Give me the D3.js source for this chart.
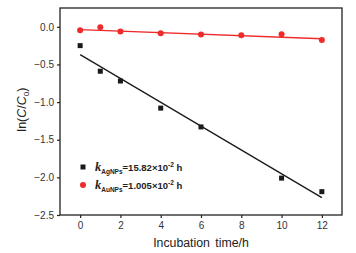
<!DOCTYPE html>
<html>
<head>
<meta charset="utf-8">
<script src="https://cdn.jsdelivr.net/npm/d3@7"></script>
<style>
  body { margin: 0; background: #fff; }
  svg { display: block; font-family: "Liberation Sans", Arial, sans-serif; }
</style>
</head>
<body>
<svg id="chart" width="356" height="253"></svg>
<script>
// measured points, ln(C/C0) vs incubation time
const hours = [0, 1, 2, 4, 6, 8, 10, 12];
const agHours = [0, 1, 2, 4, 6, 10, 12];
const agValues = [-0.25, -0.59, -0.72, -1.08, -1.33, -2.01, -2.19];
const auValues = [-0.045, -0.005, -0.063, -0.085, -0.103, -0.112, -0.099, -0.174];
// fitted lines (intercept, slope)
const agFit = [-0.37, -0.1582];
const auFit = [-0.038, -0.01005];
const xTicks = [0, 2, 4, 6, 8, 10, 12];
const yTicks = [0, -0.5, -1, -1.5, -2, -2.5];

const margin = { top: 8, right: 14, bottom: 38, left: 60 };
const svg = d3.select('#chart');
const width = 356 - margin.left - margin.right;
const height = 253 - margin.top - margin.bottom;

const x = d3.scaleLinear().domain([-1, 13]).range([0, width]);
const y = d3.scaleLinear().domain([-2.5, 0.25]).range([height, 0]);

const g = svg.append('g').attr('transform', `translate(${margin.left},${margin.top})`);

const styleAxis = sel => {
  sel.select('.domain').remove();
  sel.selectAll('line').attr('stroke', '#222').attr('stroke-width', 1.2);
  sel.selectAll('text').attr('fill', '#333').attr('font-size', 10);
};

g.append('g')
  .attr('transform', `translate(0,${height})`)
  .call(d3.axisBottom(x).tickValues(xTicks).tickSize(3).tickPadding(4).tickFormat(d3.format('d')))
  .call(styleAxis);

g.append('g')
  .call(d3.axisLeft(y).tickValues(yTicks).tickSize(3).tickPadding(3).tickFormat(d3.format('.1f')))
  .call(styleAxis);

g.append('rect')
  .attr('width', width).attr('height', height)
  .attr('fill', 'none').attr('stroke', '#222').attr('stroke-width', 1.3);

const fitLine = (fit, color) => {
  g.append('line')
    .attr('x1', x(0)).attr('y1', y(fit[0]))
    .attr('x2', x(12)).attr('y2', y(fit[0] + 12 * fit[1]))
    .attr('stroke', color).attr('stroke-width', 1.3);
};
fitLine(agFit, '#1a1a1a');
fitLine(auFit, '#ee2a2a');

g.selectAll('.ag')
  .data(agHours.map((h, i) => [h, agValues[i]]))
  .join('rect')
  .attr('x', d => x(d[0]) - 2.5)
  .attr('y', d => y(d[1]) - 2.5)
  .attr('width', 5).attr('height', 5)
  .attr('fill', '#1a1a1a');

g.selectAll('.au')
  .data(hours.map((h, i) => [h, auValues[i]]))
  .join('circle')
  .attr('cx', d => x(d[0]))
  .attr('cy', d => y(d[1]))
  .attr('r', 3)
  .attr('fill', '#ee2a2a');

// legend
const legend = [
  { sub: 'AgNPs', text: '=15.82\u00d710', color: '#1a1a1a', shape: 'rect' },
  { sub: 'AuNPs', text: '=1.005\u00d710', color: '#ee2a2a', shape: 'circle' },
];
const lg = g.selectAll('.legend')
  .data(legend)
  .join('g')
  .attr('transform', (d, i) => `translate(23,${159 + i * 18})`);

lg.filter(d => d.shape === 'rect').append('rect')
  .attr('x', -2.5).attr('y', -2.5).attr('width', 5).attr('height', 5).attr('fill', d => d.color);
lg.filter(d => d.shape === 'circle').append('circle')
  .attr('r', 3).attr('fill', d => d.color);

const lt = lg.append('text')
  .attr('x', 12).attr('y', 4)
  .attr('font-size', 9.5).attr('font-weight', 'bold').attr('fill', '#222');
lt.append('tspan').attr('font-style', 'italic').attr('font-family', '"Liberation Serif", serif')
  .attr('font-size', 12.5).text('k');
lt.append('tspan').attr('font-size', 6.5).attr('dy', 3).text(d => d.sub);
lt.append('tspan').attr('dy', -3).text(d => d.text);
lt.append('tspan').attr('font-size', 6.5).attr('dy', -4).text('-2');
lt.append('tspan').attr('dy', 4).text(' h');

// axis titles
svg.append('text')
  .attr('transform', `translate(26,${margin.top + y(-1.1)}) rotate(-90)`)
  .attr('text-anchor', 'middle')
  .attr('font-size', 12.5).attr('fill', '#222')
  .call(t => {
    t.append('tspan').text('ln(');
    t.append('tspan').attr('font-style', 'italic').text('C');
    t.append('tspan').text('/');
    t.append('tspan').attr('font-style', 'italic').text('C');
    t.append('tspan').attr('font-size', 8).attr('dy', 3).text('0');
    t.append('tspan').attr('dy', -3).text(')');
  });

svg.append('text')
  .attr('x', margin.left + x(6))
  .attr('y', 247)
  .attr('text-anchor', 'middle')
  .attr('font-size', 12.3).attr('fill', '#222')
  .attr('word-spacing', 2)
  .text('Incubation time/h');
</script>
</body>
</html>
